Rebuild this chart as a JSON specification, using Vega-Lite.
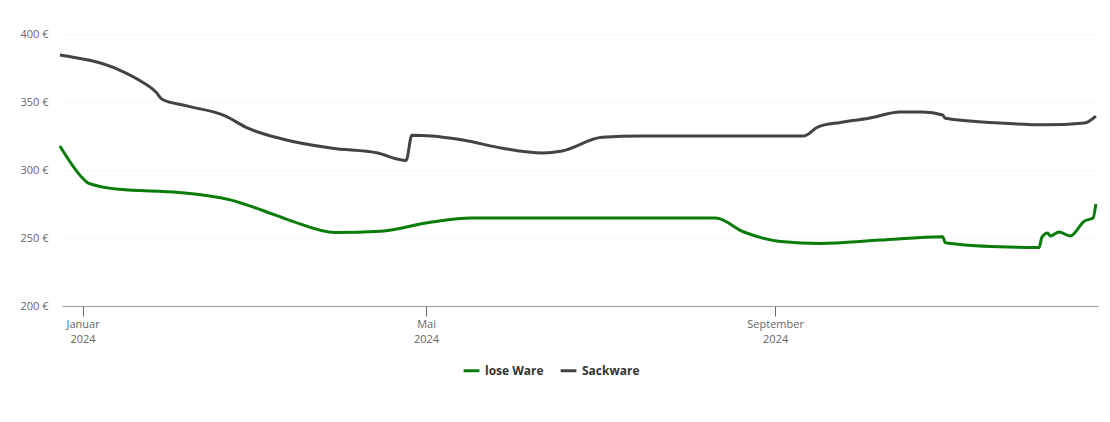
{
  "$schema": "https://vega.github.io/schema/vega-lite/v6.json",
  "width": 1036,
  "height": 272,
  "autosize": {"type": "none"},
  "padding": {"left": 62, "top": 34, "right": 12, "bottom": 116},
  "background": "#ffffff",
  "config": {
    "view": {"stroke": null},
    "font": "Open Sans"
  },
  "data": {
    "values": [
      {"d": "2023-12-24T00:00:00", "p": 384.6, "s": "Sackware"},
      {"d": "2024-01-14T00:00:00", "p": 373.5, "s": "Sackware"},
      {"d": "2024-01-21T00:00:00", "p": 366, "s": "Sackware"},
      {"d": "2024-01-27T00:00:00", "p": 357, "s": "Sackware"},
      {"d": "2024-01-29T00:00:00", "p": 352, "s": "Sackware"},
      {"d": "2024-02-07T00:00:00", "p": 347, "s": "Sackware"},
      {"d": "2024-02-20T00:00:00", "p": 340, "s": "Sackware"},
      {"d": "2024-02-28T00:00:00", "p": 331, "s": "Sackware"},
      {"d": "2024-03-11T00:00:00", "p": 323, "s": "Sackware"},
      {"d": "2024-03-29T00:00:00", "p": 316, "s": "Sackware"},
      {"d": "2024-04-14T00:00:00", "p": 312.5, "s": "Sackware"},
      {"d": "2024-04-21T00:00:00", "p": 308, "s": "Sackware"},
      {"d": "2024-04-24T00:00:00", "p": 307, "s": "Sackware"},
      {"d": "2024-04-26T00:00:00", "p": 325.5, "s": "Sackware"},
      {"d": "2024-05-03T00:00:00", "p": 325, "s": "Sackware"},
      {"d": "2024-05-14T00:00:00", "p": 322, "s": "Sackware"},
      {"d": "2024-05-28T00:00:00", "p": 316, "s": "Sackware"},
      {"d": "2024-06-11T00:00:00", "p": 312.5, "s": "Sackware"},
      {"d": "2024-06-18T00:00:00", "p": 314, "s": "Sackware"},
      {"d": "2024-07-02T00:00:00", "p": 324, "s": "Sackware"},
      {"d": "2024-07-16T00:00:00", "p": 325, "s": "Sackware"},
      {"d": "2024-09-11T00:00:00", "p": 325, "s": "Sackware"},
      {"d": "2024-09-16T00:00:00", "p": 331.6, "s": "Sackware"},
      {"d": "2024-09-24T00:00:00", "p": 335, "s": "Sackware"},
      {"d": "2024-10-04T00:00:00", "p": 338, "s": "Sackware"},
      {"d": "2024-10-15T00:00:00", "p": 342.6, "s": "Sackware"},
      {"d": "2024-10-23T00:00:00", "p": 342.6, "s": "Sackware"},
      {"d": "2024-10-30T00:00:00", "p": 340.4, "s": "Sackware"},
      {"d": "2024-10-31T00:00:00", "p": 338, "s": "Sackware"},
      {"d": "2024-11-19T00:00:00", "p": 334.5, "s": "Sackware"},
      {"d": "2024-12-05T00:00:00", "p": 333.2, "s": "Sackware"},
      {"d": "2024-12-19T00:00:00", "p": 334.6, "s": "Sackware"},
      {"d": "2024-12-23T00:00:00", "p": 339.7, "s": "Sackware"},
      {"d": "2023-12-24T00:00:00", "p": 317.6, "s": "lose Ware"},
      {"d": "2024-01-02T00:00:00", "p": 292, "s": "lose Ware"},
      {"d": "2024-01-03T00:00:00", "p": 290.4, "s": "lose Ware"},
      {"d": "2024-01-14T00:00:00", "p": 285.8, "s": "lose Ware"},
      {"d": "2024-02-04T00:00:00", "p": 283.5, "s": "lose Ware"},
      {"d": "2024-02-22T00:00:00", "p": 278, "s": "lose Ware"},
      {"d": "2024-03-04T00:00:00", "p": 270.6, "s": "lose Ware"},
      {"d": "2024-03-14T00:00:00", "p": 263, "s": "lose Ware"},
      {"d": "2024-03-30T00:00:00", "p": 254, "s": "lose Ware"},
      {"d": "2024-04-15T00:00:00", "p": 255, "s": "lose Ware"},
      {"d": "2024-05-03T00:00:00", "p": 261.8, "s": "lose Ware"},
      {"d": "2024-05-17T00:00:00", "p": 264.7, "s": "lose Ware"},
      {"d": "2024-08-11T00:00:00", "p": 264.7, "s": "lose Ware"},
      {"d": "2024-08-21T00:00:00", "p": 254.4, "s": "lose Ware"},
      {"d": "2024-09-03T00:00:00", "p": 247.5, "s": "lose Ware"},
      {"d": "2024-09-17T00:00:00", "p": 246, "s": "lose Ware"},
      {"d": "2024-10-08T00:00:00", "p": 248.5, "s": "lose Ware"},
      {"d": "2024-10-30T00:00:00", "p": 251, "s": "lose Ware"},
      {"d": "2024-10-31T00:00:00", "p": 246.5, "s": "lose Ware"},
      {"d": "2024-11-19T00:00:00", "p": 243.5, "s": "lose Ware"},
      {"d": "2024-12-03T00:00:00", "p": 243, "s": "lose Ware"},
      {"d": "2024-12-04T00:00:00", "p": 250.7, "s": "lose Ware"},
      {"d": "2024-12-06T00:00:00", "p": 253.7, "s": "lose Ware"},
      {"d": "2024-12-07T00:00:00", "p": 251.5, "s": "lose Ware"},
      {"d": "2024-12-10T00:00:00", "p": 254.4, "s": "lose Ware"},
      {"d": "2024-12-14T00:00:00", "p": 251.5, "s": "lose Ware"},
      {"d": "2024-12-19T00:00:00", "p": 262.5, "s": "lose Ware"},
      {"d": "2024-12-22T00:00:00", "p": 264.7, "s": "lose Ware"},
      {"d": "2024-12-23T00:00:00", "p": 275, "s": "lose Ware"}
    ]
  },
  "mark": {"type": "line", "interpolate": "monotone", "strokeWidth": 3},
  "encoding": {
    "x": {
      "field": "d",
      "type": "temporal",
      "scale": {"domain": [{"year": 2023, "month": 12, "date": 24, "hours": 18}, {"year": 2024, "month": 12, "date": 23, "hours": 18}]},
      "axis": {
        "title": null,
        "values": [{"year": 2024, "month": 1, "date": 1}, {"year": 2024, "month": 5, "date": 1}, {"year": 2024, "month": 9, "date": 1}],
        "labelExpr": "[['Januar','Februar','März','April','Mai','Juni','Juli','August','September','Oktober','November','Dezember'][month(datum.value)], timeFormat(datum.value, '%Y')]",
        "grid": false,
        "domainColor": "#999999",
        "domainWidth": 1,
        "tickColor": "#666666",
        "tickSize": 10,
        "labelColor": "#666666",
        "labelFontSize": 11,
        "labelPadding": 2,
        "labelLineHeight": 15
      }
    },
    "y": {
      "field": "p",
      "type": "quantitative",
      "scale": {"domain": [200, 400], "nice": false, "zero": false},
      "axis": {
        "title": null,
        "values": [200, 250, 300, 350, 400],
        "labelExpr": "datum.value + ' €'",
        "domain": false,
        "ticks": false,
        "grid": true,
        "gridColor": "#e6e6e6",
        "gridDash": [1, 3],
        "labelColor": "#666666",
        "labelFontSize": 11,
        "labelPadding": 14
      }
    },
    "color": {
      "field": "s",
      "type": "nominal",
      "scale": {"domain": ["lose Ware", "Sackware"], "range": ["#0a7c0a", "#434343"]},
      "legend": {
        "title": null,
        "orient": "none",
        "legendX": 400,
        "legendY": 327,
        "direction": "horizontal",
        "symbolType": "stroke",
        "symbolStrokeWidth": 3,
        "symbolSize": 250,
        "labelFontSize": 12,
        "labelFontWeight": "bold",
        "labelColor": "#333333",
        "columnPadding": 10
      }
    }
  }
}
